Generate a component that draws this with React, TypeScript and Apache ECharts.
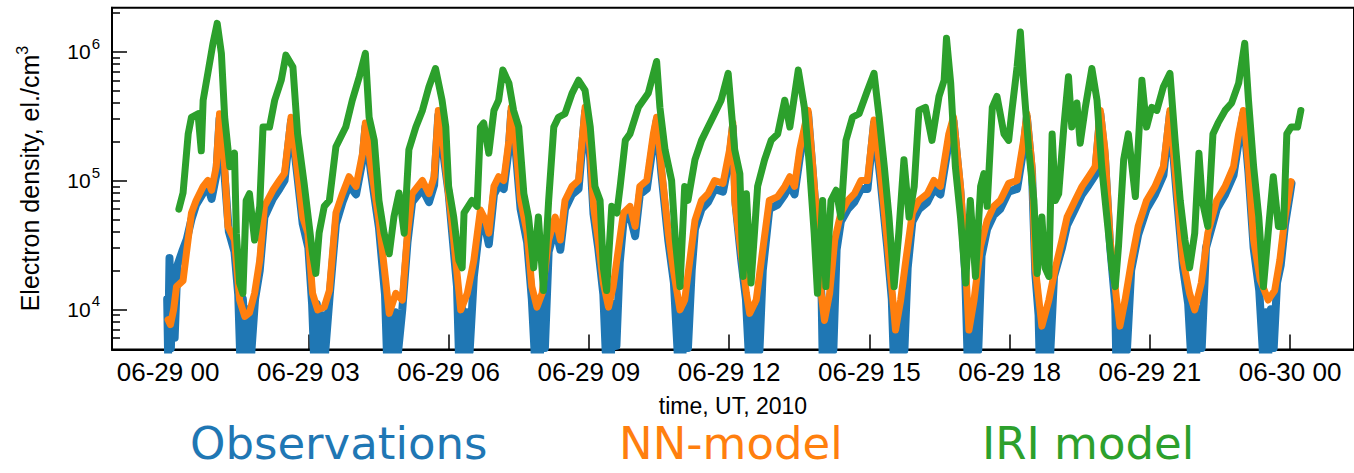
import React, { useEffect, useRef } from "react";
import * as echarts from "echarts";

// time in hours since 2010-06-29 00:00 UT, electron density in el./cm^3
const observations: [number, number][] = [
  [-0.02, 12000], [0.0, 4500], [0.03, 25000], [0.06, 5000], [0.1, 18000], [0.14, 6000], [0.2, 22000], [0.3, 28000], [0.4, 35000], [0.5, 50000], [0.6, 65000], [0.75, 80000], [0.85, 90000], [0.93, 72000], [1.03, 110000], [1.1, 300000], [1.2, 120000], [1.3, 40000], [1.42, 28000], [1.5, 13000],
  [1.54, 4600], [1.6, 12000], [1.66, 4300], [1.72, 10000], [1.78, 4600], [1.86, 12000], [1.96, 20000], [2.06, 52000], [2.24, 72000], [2.38, 86000], [2.49, 100000], [2.63, 290000], [2.77, 105000], [2.88, 46000], [3.0, 30000], [3.08, 11000],
  [3.12, 4500], [3.18, 11000], [3.24, 4200], [3.3, 9000], [3.36, 4600], [3.45, 12000], [3.59, 46000], [3.73, 68000], [3.87, 92000], [4.02, 78000], [4.16, 145000], [4.22, 260000], [4.34, 115000], [4.51, 43000], [4.64, 13000],
  [4.68, 4600], [4.74, 11000], [4.8, 4300], [4.86, 9500], [4.92, 4700], [5.01, 10000], [5.12, 33000], [5.22, 68000], [5.44, 86000], [5.58, 68000], [5.69, 92000], [5.78, 320000], [5.9, 150000], [6.0, 80000], [6.08, 38000], [6.18, 15000],
  [6.22, 4600], [6.28, 11000], [6.33, 4200], [6.39, 9500], [6.45, 4700], [6.54, 18000], [6.68, 50000], [6.79, 42000], [6.86, 32000], [6.97, 78000], [7.07, 92000], [7.18, 86000], [7.29, 180000], [7.34, 340000], [7.43, 180000], [7.54, 60000], [7.68, 33000], [7.78, 12000],
  [7.84, 4600], [7.9, 10000], [7.95, 4200], [8.0, 11000], [8.06, 5000], [8.14, 28000], [8.28, 44000], [8.39, 29000], [8.49, 60000], [8.64, 78000], [8.78, 86000], [8.92, 340000], [9.03, 150000], [9.1, 55000], [9.2, 30000], [9.31, 13000],
  [9.36, 4700], [9.42, 10000], [9.47, 4300], [9.53, 11000], [9.59, 5200], [9.66, 23000], [9.74, 48000], [9.88, 54000], [9.99, 37000], [10.09, 78000], [10.24, 86000], [10.38, 200000], [10.45, 290000], [10.55, 115000], [10.7, 34000], [10.82, 16000],
  [10.9, 4600], [10.96, 10000], [11.0, 4300], [11.06, 10000], [11.12, 5000], [11.2, 20000], [11.27, 42000], [11.41, 60000], [11.55, 68000], [11.69, 86000], [11.87, 82000], [12.01, 150000], [12.08, 260000], [12.14, 65000], [12.26, 24000], [12.36, 12000],
  [12.42, 4500], [12.48, 10000], [12.53, 4200], [12.59, 10000], [12.65, 4800], [12.72, 20000], [12.86, 60000], [13.04, 65000], [13.19, 78000], [13.3, 92000], [13.4, 78000], [13.51, 150000], [13.69, 330000], [13.79, 115000], [13.9, 35000], [13.98, 12000],
  [14.0, 4500], [14.06, 10000], [14.11, 4200], [14.17, 10000], [14.23, 4800], [14.3, 29000], [14.39, 48000], [14.54, 60000], [14.68, 68000], [14.82, 86000], [14.96, 86000], [15.1, 280000], [15.24, 100000], [15.38, 31000], [15.48, 12000],
  [15.52, 4400], [15.58, 9000], [15.63, 4200], [15.69, 10000], [15.75, 4800], [15.82, 21000], [15.92, 48000], [16.06, 60000], [16.24, 68000], [16.38, 86000], [16.52, 78000], [16.7, 200000], [16.8, 290000], [16.95, 80000], [17.05, 19000],
  [17.1, 4400], [17.16, 9000], [17.21, 4200], [17.27, 10000], [17.33, 4800], [17.4, 26000], [17.52, 42000], [17.66, 54000], [17.8, 60000], [17.98, 82000], [18.16, 86000], [18.3, 180000], [18.37, 310000], [18.48, 115000], [18.55, 19000], [18.62, 9000],
  [18.64, 4400], [18.7, 8000], [18.75, 4200], [18.81, 9000], [18.87, 4600], [18.95, 18000], [19.12, 30000], [19.23, 45000], [19.4, 60000], [19.55, 78000], [19.69, 92000], [19.83, 110000], [19.94, 330000], [20.04, 150000], [20.15, 31000], [20.26, 11000],
  [20.28, 4400], [20.34, 8000], [20.39, 4200], [20.45, 9000], [20.51, 4800], [20.6, 20000], [20.75, 38000], [20.93, 60000], [21.11, 78000], [21.29, 110000], [21.43, 330000], [21.57, 80000], [21.71, 21000], [21.82, 11000],
  [21.88, 4500], [21.94, 9000], [21.99, 4300], [22.05, 10000], [22.11, 5000], [22.2, 30000], [22.43, 60000], [22.61, 78000], [22.79, 110000], [22.9, 200000], [23.0, 330000], [23.11, 115000], [23.22, 30000], [23.34, 14000],
  [23.42, 4500], [23.48, 9500], [23.53, 4300], [23.59, 10000], [23.65, 5000], [23.72, 16000], [23.8, 22000], [23.89, 45000], [24.0, 80000], [24.03, 95000]
];

const nnModel: [number, number][] = [
  [0.0, 8300], [0.05, 7600], [0.12, 10000], [0.18, 15000], [0.32, 16700], [0.39, 27000], [0.5, 56000], [0.6, 70000], [0.75, 90000], [0.85, 100000], [0.93, 84000], [1.03, 128000], [1.1, 330000], [1.21, 128000], [1.28, 44000], [1.42, 34500], [1.53, 11800], [1.64, 8800], [1.74, 9400], [1.85, 13300], [1.96, 24000],
  [2.06, 63000], [2.24, 84000], [2.38, 100000], [2.49, 114000], [2.63, 310000], [2.77, 114000], [2.88, 52000], [2.99, 39000], [3.09, 13300], [3.2, 9900], [3.34, 10400], [3.45, 14000],
  [3.59, 56000], [3.73, 79000], [3.87, 107000], [4.02, 90000], [4.16, 163000], [4.22, 280000], [4.34, 128000], [4.51, 49000], [4.66, 16000], [4.73, 9300], [4.87, 13300], [5.01, 11800],
  [5.12, 39000], [5.22, 79000], [5.44, 100000], [5.58, 79000], [5.69, 107000], [5.78, 350000], [5.9, 170000], [5.98, 90000], [6.08, 44000], [6.18, 19000], [6.26, 9900], [6.4, 13300], [6.54, 24000],
  [6.68, 59000], [6.79, 49000], [6.86, 39000], [6.97, 90000], [7.07, 107000], [7.18, 100000], [7.29, 205000], [7.34, 370000], [7.43, 205000], [7.54, 70000], [7.68, 39000], [7.78, 15000], [7.89, 10400], [8.0, 13300],
  [8.14, 34500], [8.28, 52000], [8.39, 34500], [8.49, 70000], [8.64, 90000], [8.78, 100000], [8.92, 370000], [9.03, 173000], [9.1, 63000], [9.2, 34500], [9.31, 16000], [9.42, 10400], [9.52, 15000], [9.63, 29000],
  [9.74, 56000], [9.88, 63000], [9.99, 44000], [10.09, 90000], [10.24, 100000], [10.38, 230000], [10.45, 310000], [10.55, 128000], [10.7, 39000], [10.8, 21000], [10.95, 9900], [11.05, 11800], [11.16, 24000],
  [11.27, 49000], [11.41, 70000], [11.55, 79000], [11.69, 100000], [11.87, 95000], [12.01, 173000], [12.08, 280000], [12.12, 70000], [12.26, 27000], [12.37, 13300], [12.44, 9300], [12.58, 11800], [12.69, 24000],
  [12.86, 70000], [13.04, 75000], [13.19, 90000], [13.3, 107000], [13.4, 90000], [13.51, 173000], [13.69, 350000], [13.79, 128000], [13.9, 39000], [13.97, 13300], [14.04, 8200], [14.15, 13300], [14.26, 34500],
  [14.39, 56000], [14.54, 70000], [14.68, 79000], [14.82, 100000], [14.96, 100000], [15.1, 295000], [15.24, 113000], [15.38, 34500], [15.49, 13300], [15.56, 6900], [15.67, 11800], [15.78, 24000],
  [15.92, 56000], [16.06, 70000], [16.24, 79000], [16.38, 100000], [16.52, 90000], [16.7, 230000], [16.8, 310000], [16.95, 90000], [17.06, 21000], [17.13, 6900], [17.24, 11800], [17.38, 31000],
  [17.52, 49000], [17.66, 63000], [17.8, 70000], [17.98, 95000], [18.16, 100000], [18.3, 205000], [18.37, 330000], [18.48, 128000], [18.55, 21000], [18.66, 9300], [18.69, 7400], [18.84, 11800], [18.98, 21000],
  [19.12, 34500], [19.23, 52000], [19.4, 70000], [19.55, 90000], [19.69, 107000], [19.83, 128000], [19.94, 350000], [20.04, 173000], [20.15, 34500], [20.29, 11800], [20.36, 7400], [20.47, 11800], [20.61, 24000],
  [20.75, 44000], [20.93, 70000], [21.11, 90000], [21.29, 128000], [21.43, 350000], [21.57, 90000], [21.71, 24000], [21.85, 13300], [21.96, 9900], [22.1, 16000], [22.24, 39000],
  [22.43, 70000], [22.61, 90000], [22.79, 128000], [22.9, 230000], [23.0, 350000], [23.11, 128000], [23.22, 34500], [23.36, 17000], [23.53, 11800], [23.67, 14000], [23.78, 24000], [23.89, 52000], [24.0, 90000], [24.02, 98000]
];

const iriModel: [number, number][] = [
  [0.23, 60000], [0.32, 80000], [0.43, 230000], [0.5, 310000], [0.64, 330000], [0.71, 170000], [0.75, 420000], [0.85, 680000], [0.96, 1160000], [1.05, 1660000], [1.14, 970000], [1.21, 310000], [1.32, 128000], [1.42, 163000], [1.46, 39000], [1.53, 16000], [1.6, 13300], [1.67, 70000], [1.74, 79000], [1.85, 34500], [1.96, 63000],
  [2.03, 260000], [2.17, 260000], [2.28, 420000], [2.42, 600000], [2.52, 940000], [2.67, 760000], [2.77, 230000], [2.91, 95000], [3.02, 44000], [3.09, 27000], [3.16, 19000], [3.23, 39000], [3.34, 63000], [3.45, 70000],
  [3.59, 183000], [3.8, 260000], [3.94, 420000], [4.09, 640000], [4.22, 970000], [4.3, 310000], [4.41, 205000], [4.51, 70000], [4.62, 39000], [4.73, 27000], [4.83, 52000], [4.94, 80000], [5.05, 39000],
  [5.15, 173000], [5.3, 260000], [5.44, 350000], [5.58, 535000], [5.72, 740000], [5.86, 420000], [5.94, 260000], [6.0, 90000], [6.11, 52000], [6.22, 24000], [6.29, 21000], [6.33, 56000], [6.5, 70000], [6.61, 63000],
  [6.68, 260000], [6.75, 280000], [6.86, 163000], [6.97, 350000], [7.07, 420000], [7.16, 720000], [7.29, 570000], [7.39, 350000], [7.5, 260000], [7.61, 79000], [7.71, 52000], [7.82, 21000], [7.92, 52000], [8.03, 14000], [8.14, 70000],
  [8.25, 260000], [8.35, 310000], [8.49, 330000], [8.64, 475000], [8.78, 600000], [8.92, 500000], [9.03, 260000], [9.13, 90000], [9.24, 70000], [9.31, 21000], [9.38, 14000], [9.49, 63000], [9.6, 56000], [9.67, 90000],
  [9.78, 205000], [9.88, 230000], [10.06, 370000], [10.27, 475000], [10.45, 840000], [10.52, 370000], [10.63, 173000], [10.77, 100000], [10.85, 34500], [10.95, 15000], [11.05, 90000], [11.12, 70000],
  [11.27, 145000], [11.41, 205000], [11.55, 260000], [11.69, 330000], [11.83, 420000], [11.98, 680000], [12.12, 173000], [12.23, 113000], [12.3, 18000], [12.37, 79000], [12.47, 16000], [12.61, 90000],
  [12.76, 145000], [12.9, 205000], [13.04, 230000], [13.19, 420000], [13.3, 260000], [13.48, 720000], [13.61, 370000], [13.72, 128000], [13.82, 39000], [13.89, 13300], [14.0, 70000], [14.07, 15000], [14.18, 70000], [14.29, 84000], [14.39, 52000],
  [14.5, 205000], [14.64, 310000], [14.78, 330000], [14.96, 500000], [15.1, 680000], [15.21, 310000], [15.32, 128000], [15.42, 52000], [15.53, 15000], [15.63, 39000], [15.74, 145000], [15.85, 52000], [15.96, 90000],
  [16.06, 350000], [16.2, 370000], [16.34, 205000], [16.49, 450000], [16.6, 600000], [16.65, 1270000], [16.74, 570000], [16.84, 128000], [16.95, 52000], [17.06, 16000], [17.16, 70000], [17.27, 18000], [17.38, 90000], [17.45, 113000], [17.52, 63000],
  [17.63, 370000], [17.73, 450000], [17.88, 230000], [17.98, 205000], [18.05, 350000], [18.16, 760000], [18.23, 1420000], [18.3, 570000], [18.41, 173000], [18.52, 70000], [18.59, 19000], [18.69, 52000], [18.76, 21000], [18.84, 18000], [18.91, 230000], [18.98, 70000], [19.05, 79000],
  [19.16, 260000], [19.26, 640000], [19.33, 260000], [19.44, 400000], [19.51, 195000], [19.62, 370000], [19.76, 740000], [19.87, 420000], [19.97, 128000], [20.08, 52000], [20.19, 21000], [20.26, 15000], [20.33, 31000], [20.44, 145000],
  [20.54, 230000], [20.69, 75000], [20.83, 600000], [20.93, 260000], [21.04, 370000], [21.15, 350000], [21.29, 535000], [21.43, 680000], [21.54, 205000], [21.65, 70000], [21.75, 34500], [21.85, 21000], [21.96, 39000], [22.05, 163000], [22.12, 70000], [22.24, 44000],
  [22.35, 230000], [22.46, 280000], [22.61, 350000], [22.75, 400000], [22.9, 570000], [23.03, 1160000], [23.11, 420000], [23.22, 128000], [23.33, 52000], [23.43, 15000], [23.53, 39000], [23.64, 107000], [23.75, 44000], [23.86, 44000],
  [23.93, 230000], [24.02, 260000], [24.16, 260000], [24.23, 350000]
];

const seriesNames = ["Observations", "NN-model", "IRI model"];
const seriesColors = ["#1f77b4", "#ff7f0e", "#2ca02c"];

const xTickHours = [0, 3, 6, 9, 12, 15, 18, 21, 24];
const xTickLabels = ["06-29 00", "06-29 03", "06-29 06", "06-29 09", "06-29 12", "06-29 15", "06-29 18", "06-29 21", "06-30 00"];
const yMajorTicks = [1e4, 1e5, 1e6];
const yMinorTicks = [
  6000, 7000, 8000, 9000,
  20000, 30000, 40000, 50000, 60000, 70000, 80000, 90000,
  200000, 300000, 400000, 500000, 600000, 700000, 800000, 900000,
  2000000
];

const AXIS_FONT = "'Liberation Sans', Arial, Helvetica, sans-serif";
const LEGEND_LEFTS = [185, 614, 977];

export default function App() {
  const ref = useRef<HTMLDivElement>(null);

  useEffect(() => {
    if (!ref.current) return;
    const chart = echarts.init(ref.current, undefined, { renderer: "svg" });
    const yMin = 4874;
    const yMax = 2196000;

    const lineSeries = [observations, nnModel, iriModel].map((data, i) => ({
      name: seriesNames[i],
      type: "line",
      data,
      showSymbol: false,
      symbol: "none",
      clip: true,
      silent: true,
      z: 2 + i,
      lineStyle: {
        color: seriesColors[i],
        width: i === 0 ? 8 : 7,
        cap: "round",
        join: "round",
      },
      itemStyle: { color: seriesColors[i] },
    }));

    const legends = seriesNames.map((n, i) => ({
      left: LEGEND_LEFTS[i],
      top: 421,
      padding: 0,
      itemWidth: 0,
      itemHeight: 0,
      icon: "none",
      selectedMode: false,
      textStyle: { fontFamily: "'DejaVu Sans', Verdana, sans-serif", fontSize: 45, lineHeight: 45 },
      data: [{ name: n, textStyle: { color: seriesColors[i] } }],
    }));

    chart.setOption({
      animation: false,
      grid: {
        left: 112,
        right: -4,
        top: 7.7,
        bottom: 123.5,
        show: true,
        borderColor: "#000",
        borderWidth: 2,
        backgroundColor: "transparent",
      },
      legend: legends,
      xAxis: {
        type: "value",
        min: -1.2,
        max: 25.367,
        splitLine: { show: false },
        axisLine: { show: true, onZero: false, lineStyle: { color: "#000", width: 2 } },
        axisTick: {
          show: true,
          inside: true,
          length: 15,
          customValues: xTickHours,
          lineStyle: { color: "#000", width: 1.5 },
        },
        axisLabel: {
          customValues: xTickHours,
          formatter: (v: number) => xTickLabels[xTickHours.indexOf(Math.round(v))] ?? "",
          fontSize: 26,
          fontFamily: AXIS_FONT,
          color: "#000",
          margin: 9,
        },
        name: "time, UT, 2010",
        nameLocation: "middle",
        nameGap: 45,
        nameTextStyle: { fontSize: 23, fontFamily: AXIS_FONT, color: "#000" },
      },
      yAxis: [
        {
          type: "log",
          logBase: 10,
          min: yMin,
          max: yMax,
          position: "left",
          splitLine: { show: false },
          axisLine: { show: true, onZero: false, lineStyle: { color: "#000", width: 2 } },
          axisTick: {
            show: true,
            inside: true,
            length: 15,
            customValues: yMajorTicks,
            lineStyle: { color: "#000", width: 1.5 },
          },
          axisLabel: {
            customValues: yMajorTicks,
            margin: 12,
            formatter: (v: number) => `{b|10}{s|${Math.round(Math.log10(v))}}`,
            rich: {
              b: { fontSize: 21, fontFamily: AXIS_FONT, color: "#000" },
              s: { fontSize: 15, fontFamily: AXIS_FONT, color: "#000", padding: [0, 0, 17, 1] },
            },
          },
          name: "Electron density, el./cm{s|3}",
          nameLocation: "middle",
          nameRotate: 90,
          nameGap: 66,
          nameTextStyle: {
            fontSize: 25,
            fontFamily: AXIS_FONT,
            color: "#000",
            rich: {
              s: { fontSize: 16, fontFamily: AXIS_FONT, color: "#000", padding: [0, 0, 16, 0] },
            },
          },
        },
        {
          type: "log",
          logBase: 10,
          min: yMin,
          max: yMax,
          position: "left",
          offset: 0,
          splitLine: { show: false },
          axisLine: { show: false, onZero: false },
          axisLabel: { show: false },
          axisTick: {
            show: true,
            inside: true,
            length: 8,
            customValues: yMinorTicks,
            lineStyle: { color: "#000", width: 1.5 },
          },
        },
      ],
      series: lineSeries,
    });

    return () => chart.dispose();
  }, []);

  return (
    <div
      ref={ref}
      style={{ position: "fixed", left: 0, top: 0, width: 1354, height: 473, background: "#fff" }}
    />
  );
}
